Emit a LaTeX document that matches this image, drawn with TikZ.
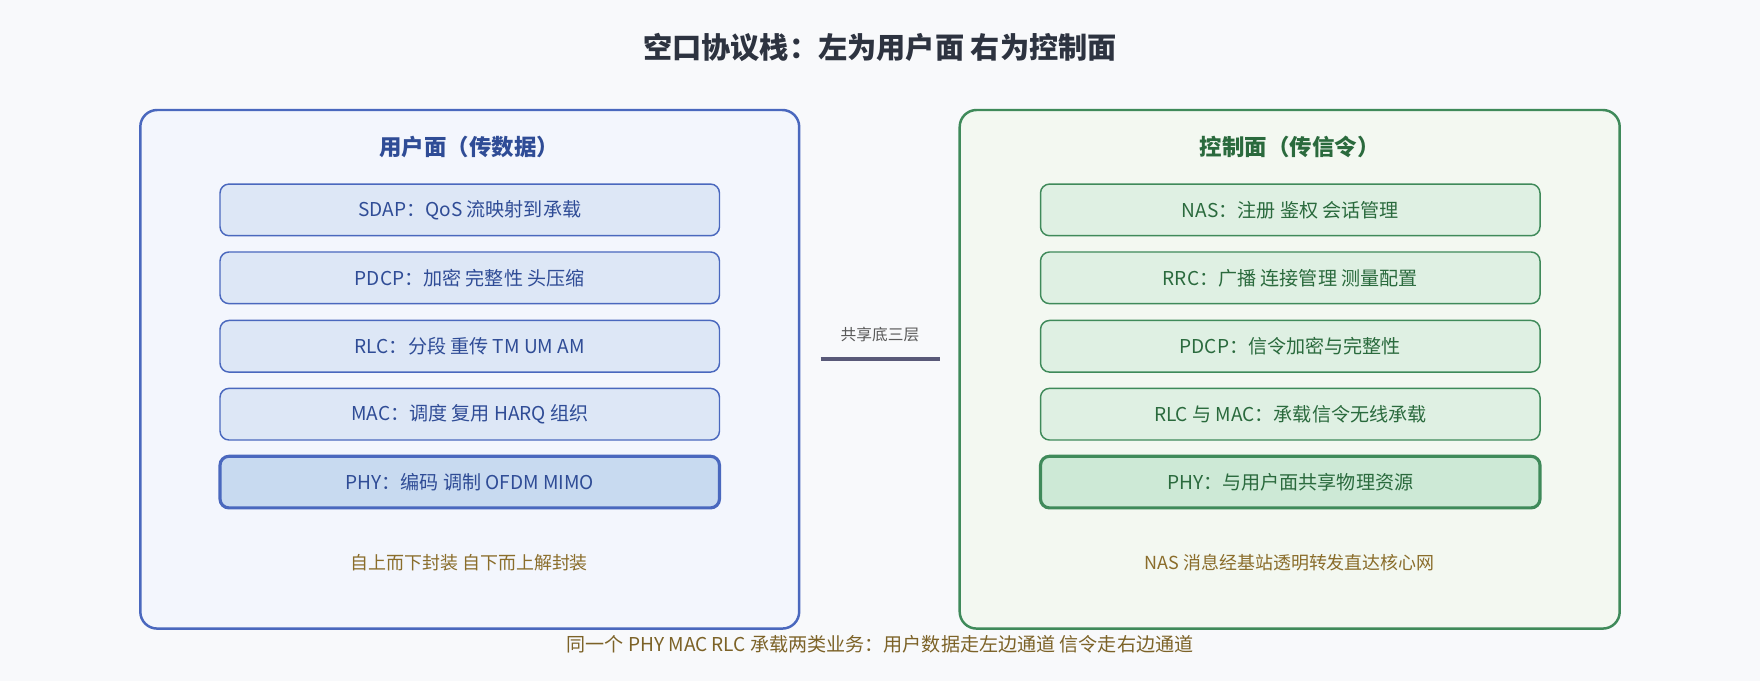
\documentclass[tikz,border=0pt]{standalone}
\usepackage{fontspec}
\setmainfont{Noto Sans CJK SC}
\begin{document}
\definecolor{bg}{HTML}{F8F9FB}
\definecolor{ubord}{HTML}{4A68BE}
\definecolor{ufill}{HTML}{F3F6FD}
\definecolor{ubox}{HTML}{DDE7F6}
\definecolor{uphy}{HTML}{C8DAF0}
\definecolor{utext}{HTML}{2F4C96}
\definecolor{cbord}{HTML}{3F8A5A}
\definecolor{cfill}{HTML}{F3F8F1}
\definecolor{cbox}{HTML}{DFF0E3}
\definecolor{cphy}{HTML}{CDE9D6}
\definecolor{ctext}{HTML}{2A6A3D}
\definecolor{note}{HTML}{8A6D2B}
\definecolor{titlec}{HTML}{2D3340}
\begin{tikzpicture}[x=1pt,y=-1pt,
  panel/.style={draw, line width=2.2pt, rounded corners=15pt},
  layer/.style={draw, line width=1.3pt, rounded corners=8pt, minimum width=445pt, minimum height=46pt, font=\fontsize{17}{20}\selectfont, inner sep=0pt},
  ul/.style={layer, draw=ubord, fill=ubox, text=utext},
  cl/.style={layer, draw=cbord, fill=cbox, text=ctext},
  head/.style={font=\fontsize{20}{24}\selectfont\bfseries},
  notet/.style={text=note, font=\fontsize{16}{19}\selectfont}]
\fill[bg] (0,0) rectangle (1568,607);
\useasboundingbox (0,0) rectangle (1568,607);
\node[text=titlec, font=\fontsize{26}{30}\selectfont\bfseries] (title) at (784,42) {空口协议栈：左为用户面 右为控制面};
% left panel
\draw[panel, draw=ubord, fill=ufill] (125,98) rectangle (712,560);
\node[head, text=utext] (uh) at (418,131) {用户面（传数据）};
\node[ul] (u1) at (418.5,187) {SDAP：QoS 流映射到承载};
\node[ul] (u2) at (418.5,247.5) {PDCP：加密 完整性 头压缩};
\node[ul] (u3) at (418.5,308.5) {RLC：分段 重传 TM UM AM};
\node[ul] (u4) at (418.5,369) {MAC：调度 复用 HARQ 组织};
\node[ul, fill=uphy, line width=2.8pt] (u5) at (418.5,429.5) {PHY：编码 调制 OFDM MIMO};
\node[notet] (un) at (418,501) {自上而下封装 自下而上解封装};
% right panel
\draw[panel, draw=cbord, fill=cfill] (855,98) rectangle (1443,560);
\node[head, text=ctext] (ch) at (1149,131) {控制面（传信令）};
\node[cl] (c1) at (1149.5,187) {NAS：注册 鉴权 会话管理};
\node[cl] (c2) at (1149.5,247.5) {RRC：广播 连接管理 测量配置};
\node[cl] (c3) at (1149.5,308.5) {PDCP：信令加密与完整性};
\node[cl] (c4) at (1149.5,369) {RLC 与 MAC：承载信令无线承载};
\node[cl, fill=cphy, line width=2.8pt] (c5) at (1149.5,429.5) {PHY：与用户面共享物理资源};
\node[notet] (cn) at (1149,501) {NAS 消息经基站透明转发直达核心网};
% middle
\node[text=black!65, font=\fontsize{14}{17}\selectfont] (sh) at (784,298) {共享底三层};
\coordinate (ma) at (731,320);
\coordinate (mb) at (837,320);
\draw[line width=3.5pt, draw=black!60!blue!30!gray] (ma) -- (mb);
\node[text=note!90!black, font=\fontsize{17}{20}\selectfont] (cap) at (784,574) {同一个 PHY MAC RLC 承载两类业务：用户数据走左边通道 信令走右边通道};
\end{tikzpicture}
\end{document}
